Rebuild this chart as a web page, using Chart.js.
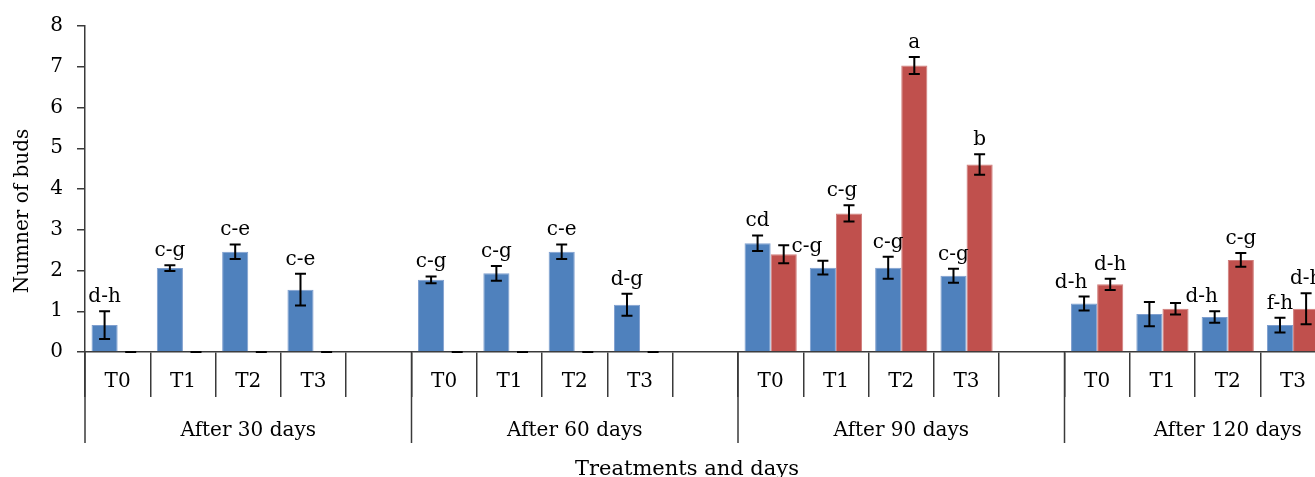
<!DOCTYPE html>
<html>
<head>
<meta charset="utf-8">
<script src="https://cdn.jsdelivr.net/npm/chart.js@4.4.1/dist/chart.umd.min.js"></script>
<style>
  html, body { margin: 0; padding: 0; background: #fff; overflow: hidden; }
  #wrap { width: 1400px; height: 477px; }
</style>
</head>
<body>
<div id="wrap"><canvas id="c" width="1400" height="477"></canvas></div>
<script>
// ---- data ----
const categories = ['T0','T1','T2','T3','', 'T0','T1','T2','T3','', 'T0','T1','T2','T3','', 'T0','T1','T2','T3',''];
const groupLabels = ['After 30 days','After 60 days','After 90 days','After 120 days'];
const blueValues = [0.66,2.06,2.46,1.53,null, 1.77,1.93,2.46,1.16,null, 2.67,2.07,2.07,1.87,null, 1.19,0.93,0.86,0.66,null];
const blueErrors = [0.34,0.07,0.18,0.39,null, 0.085,0.18,0.18,0.27,null, 0.19,0.17,0.27,0.17,null, 0.17,0.30,0.14,0.18,null];
const redValues  = [0,0,0,0,null, 0,0,0,0,null, 2.40,3.40,7.03,4.60,null, 1.66,1.06,2.26,1.06,null];
const redErrors  = [0,0,0,0,null, 0,0,0,0,null, 0.22,0.20,0.21,0.25,null, 0.14,0.14,0.17,0.38,null];
const blueLetters = ['d-h','c-g','c-e','c-e','', 'c-g','c-g','c-e','d-g','', 'cd','c-g','c-g','c-g','', 'd-h','','d-h','f-h',''];
const redLetters  = ['','','','','', '','','','','', '','c-g','a','b','', 'd-h','','c-g','d-h',''];
const yTicks = [0,1,2,3,4,5,6,7,8];
const xTitle = 'Treatments and days';
const yTitle = 'Numner of buds';

const FONT = '"DejaVu Serif", serif';
const AXIS_COLOR = '#3a3a3a';

// label nudges (style only, px)
const letterNudge = { '0-11': -16, '1-11': -7, '0-15': -13, '0-17': -13 };

const errorPlugin = {
  id: 'errs',
  afterDatasetsDraw(chart) {
    const ctx = chart.ctx;
    const y = chart.scales.y;
    const errs = [blueErrors, redErrors];
    const letters = [blueLetters, redLetters];
    ctx.save();
    chart.data.datasets.forEach((ds, di) => {
      const meta = chart.getDatasetMeta(di);
      meta.data.forEach((bar, i) => {
        const v = ds.data[i];
        if (v === null || v === undefined) return;
        const e = errs[di][i] || 0;
        const x = bar.x;
        const yt = y.getPixelForValue(v + e);
        const yb = y.getPixelForValue(Math.max(0, v - e));
        ctx.strokeStyle = '#000';
        ctx.lineWidth = 2;
        ctx.beginPath();
        ctx.moveTo(x, yt); ctx.lineTo(x, yb);
        ctx.moveTo(x - 5.5, yt); ctx.lineTo(x + 5.5, yt);
        ctx.moveTo(x - 5.5, yb); ctx.lineTo(x + 5.5, yb);
        ctx.stroke();
        const t = letters[di][i];
        if (t) {
          ctx.fillStyle = '#000';
          ctx.font = '20px ' + FONT;
          ctx.textAlign = 'center';
          ctx.textBaseline = 'alphabetic';
          const dx = letterNudge[di + '-' + i] || 0;
          ctx.fillText(t, x + dx, yt - 9);
        }
      });
    });
    ctx.restore();
  },
  afterDraw(chart) {
    const ctx = chart.ctx;
    const xs = chart.scales.x;
    const area = chart.chartArea;
    const n = categories.length;
    const per = 5;
    const half = (xs.getPixelForValue(1) - xs.getPixelForValue(0)) / 2;
    ctx.save();
    ctx.strokeStyle = AXIS_COLOR;
    ctx.lineWidth = 1.5;
    // group separators
    for (let g = 0; g <= n / per; g++) {
      const idx = g * per;
      const xpix = idx >= n ? area.right : xs.getPixelForValue(idx) - half;
      ctx.beginPath();
      ctx.moveTo(xpix, area.bottom);
      ctx.lineTo(xpix, area.bottom + 91);
      ctx.stroke();
    }
    // group labels
    ctx.fillStyle = '#000';
    ctx.font = '20px ' + FONT;
    ctx.textAlign = 'center';
    ctx.textBaseline = 'alphabetic';
    groupLabels.forEach((lab, g) => {
      const a = xs.getPixelForValue(g * per) - half;
      const b = xs.getPixelForValue(g * per + per - 1) + half;
      ctx.fillText(lab, (a + b) / 2, area.bottom + 84);
    });
    // axis titles
    ctx.font = '21px ' + FONT;
    ctx.fillText(xTitle, 687, 475);
    ctx.font = '20px ' + FONT;
    ctx.translate(28, 211);
    ctx.rotate(-Math.PI / 2);
    ctx.fillText(yTitle, 0, 0);
    ctx.restore();
  }
};

new Chart(document.getElementById('c'), {
  type: 'bar',
  data: {
    labels: categories,
    datasets: [
      { label: 'Series 1', data: blueValues, backgroundColor: '#4F81BD', borderColor: '#7f9fcf', borderWidth: 1 },
      { label: 'Series 2', data: redValues, backgroundColor: '#C0504D', borderColor: '#cf7c7a', borderWidth: 1 }
    ]
  },
  options: {
    responsive: false,
    animation: false,
    devicePixelRatio: 1,
    layout: { padding: { top: 23, right: 9, left: 0, bottom: 0 } },
    datasets: { bar: { categoryPercentage: 0.8, barPercentage: 1.0 } },
    plugins: { legend: { display: false }, tooltip: { enabled: false } },
    scales: {
      x: {
        offset: true,
        grid: { display: true, offset: true, drawOnChartArea: false, drawTicks: true, tickLength: 45, color: AXIS_COLOR, lineWidth: 1.5 },
        border: { display: true, color: AXIS_COLOR, width: 1.5 },
        ticks: { color: '#000', font: { family: FONT, size: 20 }, padding: -27, maxRotation: 0, autoSkip: false },
        afterFit(scale) { scale.height = 125; }
      },
      y: {
        min: 0, max: 8,
        afterBuildTicks(scale) { scale.ticks = yTicks.map(v => ({ value: v })); },
        grid: { display: true, drawOnChartArea: false, drawTicks: true, tickLength: 8, color: AXIS_COLOR, lineWidth: 1.5 },
        border: { display: true, color: AXIS_COLOR, width: 1.5 },
        ticks: { color: '#000', font: { family: FONT, size: 20 }, padding: 14 },
        afterFit(scale) { scale.width = 85; }
      }
    }
  },
  plugins: [errorPlugin]
});
</script>
</body>
</html>
